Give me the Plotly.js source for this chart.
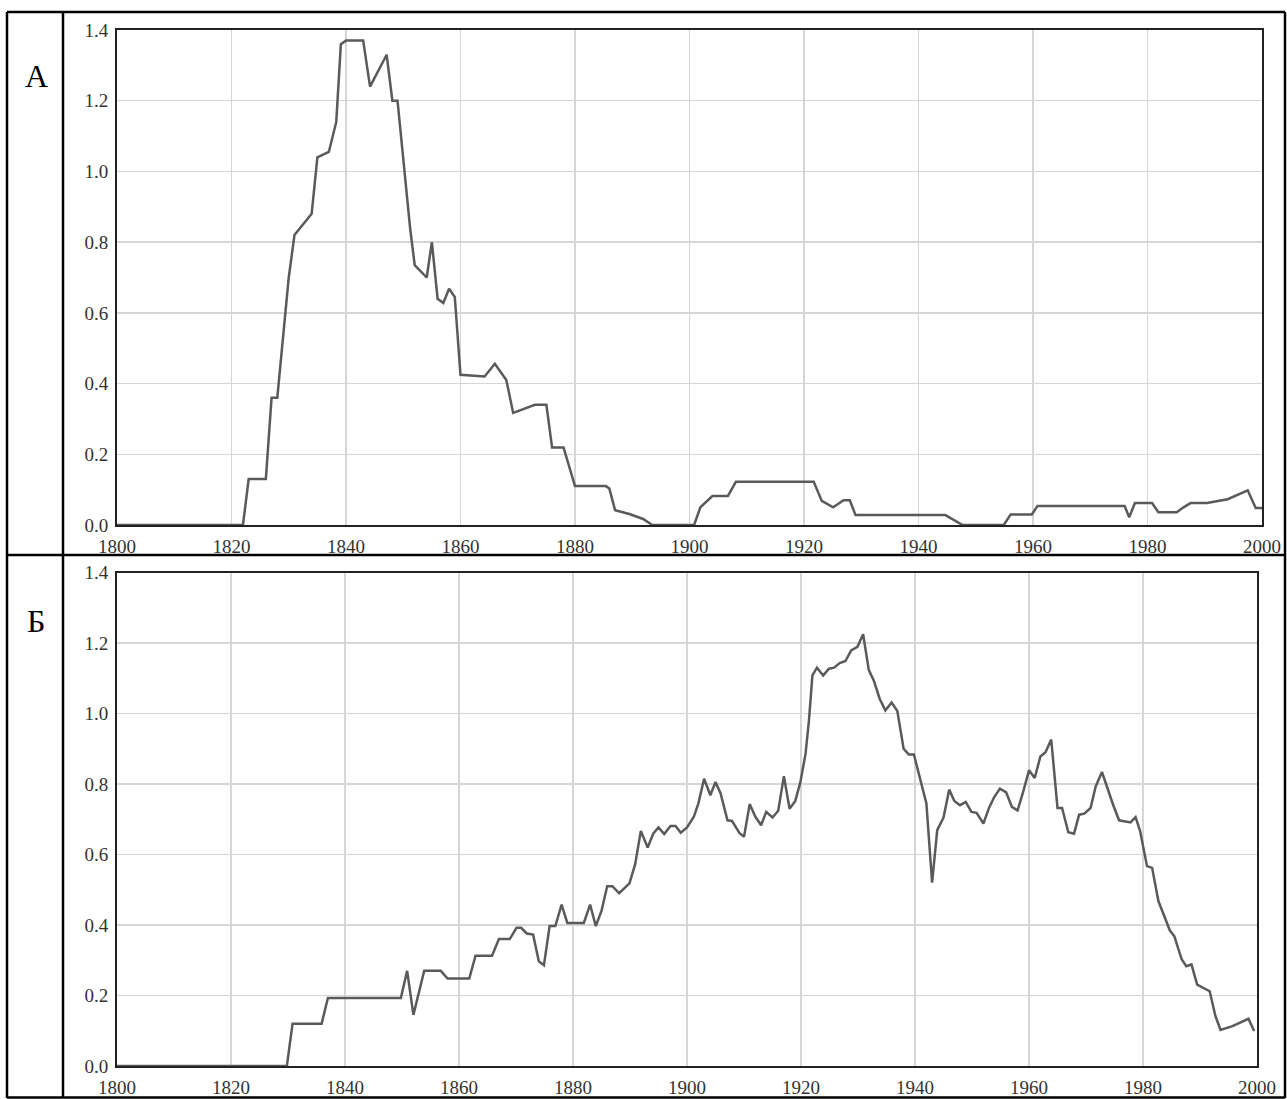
<!DOCTYPE html>
<html>
<head>
<meta charset="utf-8">
<script src="https://cdn.plot.ly/plotly-3.0.1.min.js"></script>
<style>
  html, body { margin: 0; padding: 0; background: #ffffff; }
  #chart { width: 1287px; height: 1099px; }
</style>
</head>
<body>
<div id="chart"></div>
<script>
// ---- Data ----
const panelLabels = ["А", "Б"];

const yearsA = [1800, 1822, 1823, 1826, 1827, 1828, 1830, 1831, 1834, 1835, 1837, 1838.3, 1839.1, 1840, 1843,
  1844.2, 1847.1, 1848.1, 1849, 1851.2, 1852, 1854.1, 1855, 1856, 1857, 1858, 1859, 1860, 1864.2, 1866, 1868,
  1869.2, 1873, 1875, 1876, 1878, 1880, 1885.4, 1886, 1887, 1889.5, 1891.9, 1893.5, 1900.8, 1901.9, 1904,
  1906.7, 1908.1, 1921.7, 1923.1, 1925.1, 1926.9, 1928, 1929, 1944.7, 1947.7, 1954.9, 1956.1, 1959.8, 1960.8,
  1976, 1976.8, 1977.8, 1980.8, 1981.9, 1985.1, 1986.3, 1987.5, 1990.4, 1994, 1997.5, 1998.9, 2000];
const valuesA = [0, 0, 0.13, 0.13, 0.36, 0.36, 0.70, 0.82, 0.88, 1.04, 1.055, 1.14, 1.36, 1.37, 1.37,
  1.24, 1.33, 1.20, 1.20, 0.84, 0.735, 0.70, 0.80, 0.64, 0.628, 0.668, 0.645, 0.425, 0.42, 0.456, 0.41,
  0.317, 0.34, 0.34, 0.219, 0.219, 0.11, 0.11, 0.103, 0.042, 0.031, 0.017, 0, 0, 0.05, 0.082,
  0.082, 0.122, 0.122, 0.068, 0.05, 0.07, 0.07, 0.028, 0.028, 0, 0, 0.03, 0.03, 0.054,
  0.054, 0.022, 0.062, 0.062, 0.036, 0.036, 0.05, 0.062, 0.062, 0.073, 0.098, 0.048, 0.048];

const yearsB = [1800, 1829.8, 1830.8, 1835.9, 1837, 1849.8, 1850.9, 1852, 1853.9, 1856.8, 1858, 1861.8, 1862.9,
  1865.8, 1867, 1868.9, 1870.1, 1870.9, 1871.9, 1873, 1874, 1874.9, 1875.9, 1876.9, 1878, 1879, 1881.9, 1883,
  1884, 1885, 1886, 1886.9, 1888.1, 1889.9, 1890.9, 1891.9, 1893.1, 1894.1, 1895, 1896, 1897.1, 1898, 1898.9,
  1900, 1901.2, 1902, 1903, 1904.1, 1905, 1905.9, 1907.1, 1907.9, 1909.2, 1910, 1911, 1912, 1913, 1913.9,
  1915, 1916, 1917, 1918, 1919, 1919.9, 1920.8, 1921.4, 1922, 1922.8, 1923.9, 1924.9, 1925.8, 1926.8, 1927.8,
  1928.8, 1929.9, 1930.9, 1931.9, 1932.8, 1933.8, 1934.8, 1935.9, 1936.9, 1938, 1938.9, 1939.8, 1941, 1942,
  1943, 1943.9, 1945, 1946, 1946.9, 1947.9, 1948.9, 1949.9, 1950.8, 1952, 1953, 1953.9, 1954.9, 1956, 1957,
  1958, 1959, 1960, 1961, 1962, 1962.9, 1963.9, 1965, 1965.8, 1966.9, 1967.9, 1968.8, 1969.7, 1970.8, 1971.7,
  1972.8, 1973.8, 1974.8, 1975.8, 1976.8, 1977.8, 1978.7, 1979.5, 1980.7, 1981.6, 1982.7, 1983.8, 1984.7,
  1985.5, 1986.8, 1987.6, 1988.5, 1989.5, 1990.5, 1991.7, 1992.7, 1993.6, 1995.7, 1998.5, 1999.5];
const valuesB = [0, 0, 0.12, 0.12, 0.193, 0.193, 0.27, 0.145, 0.27, 0.27, 0.248, 0.248, 0.313,
  0.313, 0.36, 0.36, 0.392, 0.392, 0.376, 0.373, 0.297, 0.286, 0.397, 0.397, 0.458, 0.406, 0.406, 0.458,
  0.397, 0.44, 0.51, 0.51, 0.49, 0.518, 0.572, 0.667, 0.62, 0.66, 0.677, 0.658, 0.681, 0.681, 0.662,
  0.677, 0.707, 0.745, 0.815, 0.768, 0.806, 0.773, 0.697, 0.695, 0.661, 0.65, 0.743, 0.707, 0.683, 0.721,
  0.705, 0.724, 0.822, 0.73, 0.752, 0.806, 0.886, 0.981, 1.108, 1.13, 1.108, 1.127, 1.13, 1.143, 1.149,
  1.179, 1.189, 1.225, 1.123, 1.092, 1.042, 1.009, 1.031, 1.007, 0.9, 0.884, 0.884, 0.811, 0.745,
  0.52, 0.669, 0.705, 0.784, 0.752, 0.74, 0.749, 0.721, 0.718, 0.688, 0.733, 0.763, 0.787, 0.776, 0.735,
  0.725, 0.779, 0.839, 0.817, 0.878, 0.89, 0.926, 0.732, 0.732, 0.663, 0.659, 0.713, 0.716, 0.732, 0.793,
  0.834, 0.784, 0.739, 0.697, 0.694, 0.691, 0.706, 0.666, 0.567, 0.562, 0.468, 0.42, 0.385,
  0.368, 0.302, 0.283, 0.288, 0.231, 0.222, 0.212, 0.142, 0.102, 0.113, 0.134, 0.099];

const xTickVals = [1800, 1820, 1840, 1860, 1880, 1900, 1920, 1940, 1960, 1980, 2000];
const yTickVals = [0, 0.2, 0.4, 0.6, 0.8, 1.0, 1.2, 1.4];

// ---- Layout helpers (pixel -> paper, margins are zero) ----
const W = 1287, H = 1099;
const px = v => v / W;
const py = v => 1 - v / H;

const lineStyle = { color: '#5a5a5a', width: 2.5 };
const tickFont = { family: 'Liberation Serif, Times New Roman, serif', size: 19, color: '#333333' };

function xAxis(d0, d1, anchor) {
  return {
    domain: [px(d0), px(d1)], range: [1800, 2000], anchor: anchor,
    tickmode: 'array', tickvals: xTickVals, ticktext: xTickVals.map(String),
    showgrid: true, gridcolor: '#d6d6d6', gridwidth: 1.3,
    showline: true, linecolor: '#222222', linewidth: 2, mirror: true,
    ticks: '', tickfont: tickFont, zeroline: false, automargin: false,
    ticklabelstandoff: 3, fixedrange: true
  };
}
function yAxis(top, bottom, anchor) {
  return {
    domain: [py(bottom), py(top)], range: [0, 1.4], anchor: anchor,
    tickmode: 'array', tickvals: yTickVals, ticktext: yTickVals.map(v => v.toFixed(1)),
    showgrid: true, gridcolor: '#d6d6d6', gridwidth: 1.3,
    showline: true, linecolor: '#222222', linewidth: 2, mirror: true,
    ticks: '', tickfont: tickFont, zeroline: false, automargin: false,
    ticklabelstandoff: 3, fixedrange: true
  };
}

const traces = [
  { x: yearsA, y: valuesA, type: 'scatter', mode: 'lines', line: lineStyle, xaxis: 'x', yaxis: 'y', hoverinfo: 'skip' },
  { x: yearsB, y: valuesB, type: 'scatter', mode: 'lines', line: lineStyle, xaxis: 'x2', yaxis: 'y2', hoverinfo: 'skip' }
];

function hLine(y, x0, x1) {
  return { type: 'line', xref: 'paper', yref: 'paper', x0: px(x0), x1: px(x1), y0: py(y), y1: py(y),
           line: { color: '#000000', width: 2.5 } };
}
function vLine(x, y0, y1) {
  return { type: 'line', xref: 'paper', yref: 'paper', x0: px(x), x1: px(x), y0: py(y0), y1: py(y1),
           line: { color: '#000000', width: 2.5 } };
}

const layout = {
  width: W, height: H,
  margin: { l: 0, r: 0, t: 0, b: 0, pad: 0 },
  paper_bgcolor: '#ffffff', plot_bgcolor: '#ffffff',
  showlegend: false,
  xaxis: xAxis(117, 1262, 'y'),
  yaxis: yAxis(30, 525, 'x'),
  xaxis2: xAxis(117, 1257, 'y2'),
  yaxis2: yAxis(572.5, 1066, 'x2'),
  shapes: [
    hLine(12, 7, 1285),
    hLine(555, 7, 1285),
    hLine(1097.5, 7, 1285),
    vLine(7, 12, 1098),
    vLine(63, 12, 1098),
    vLine(1285, 12, 1098)
  ],
  annotations: [
    { text: panelLabels[0], xref: 'paper', yref: 'paper', x: px(36), y: py(76), xanchor: 'center', yanchor: 'middle',
      showarrow: false, font: { family: 'Liberation Serif, Times New Roman, serif', size: 32, color: '#000000' } },
    { text: panelLabels[1], xref: 'paper', yref: 'paper', x: px(36), y: py(621), xanchor: 'center', yanchor: 'middle',
      showarrow: false, font: { family: 'Liberation Serif, Times New Roman, serif', size: 32, color: '#000000' } }
  ]
};

Plotly.newPlot('chart', traces, layout, { staticPlot: true, displayModeBar: false });
</script>
</body>
</html>
